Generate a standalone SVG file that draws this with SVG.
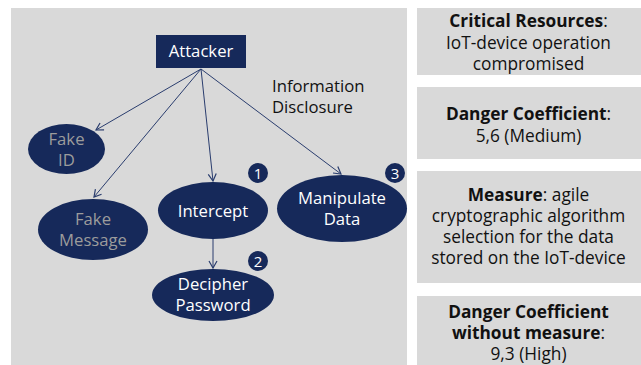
<svg xmlns="http://www.w3.org/2000/svg" width="641" height="365" viewBox="0 0 641 365">
<defs>
<style>
.panel{fill:#d9d9d9}
.node{fill:#16295a}
.t{font-family:"Open Sans","Noto Sans","DejaVu Sans",sans-serif;font-size:16.7px;text-anchor:middle}
.r{font-size:17.3px}
.w{fill:#ffffff}
.g{fill:#9c9c9c}
.k{fill:#111111}
.b{font-weight:bold}
.edge{stroke:#2a3d6e;stroke-width:1;fill:none;marker-end:url(#arr)}
.badge{fill:#16295a}
.bt{font-family:"Open Sans","Noto Sans",sans-serif;font-size:15px;fill:#ffffff;text-anchor:middle}
</style>
<marker id="arr" markerWidth="10" markerHeight="10" refX="8" refY="5" orient="auto" markerUnits="userSpaceOnUse">
<path d="M1,1 L8,5 L1,9" fill="none" stroke="#2a3d6e" stroke-width="1.2"/>
</marker>
</defs>
<rect width="641" height="365" fill="#ffffff"/>
<rect class="panel" x="11" y="8" width="396" height="357"/>
<rect class="panel" x="417" y="8" width="224" height="67"/>
<rect class="panel" x="417" y="87" width="224" height="72"/>
<rect class="panel" x="417" y="171" width="224" height="112"/>
<rect class="panel" x="417" y="296" width="224" height="69"/>

<g id="connectors">
<line class="edge" x1="201" y1="69" x2="96" y2="130"/>
<line class="edge" x1="201" y1="69" x2="94" y2="197"/>
<line class="edge" x1="201" y1="69" x2="213" y2="181"/>
<line class="edge" x1="201" y1="69" x2="341" y2="174"/>
<line class="edge" x1="213" y1="239" x2="213" y2="268"/>
</g>

<g id="attacker">
<rect class="node" x="156" y="35" width="90" height="33"/>
<text class="t w" x="201" y="57">Attacker</text>
</g>
<g id="fake-id">
<ellipse class="node" cx="66.5" cy="149" rx="38.5" ry="25"/>
<text class="t g" x="66.5" y="145">Fake</text>
<text class="t g" x="66.5" y="166">ID</text>
</g>
<g id="fake-message">
<ellipse class="node" cx="93" cy="229.5" rx="55" ry="30.5"/>
<text class="t g" x="93" y="225">Fake</text>
<text class="t g" x="93" y="246">Message</text>
</g>
<g id="intercept">
<ellipse class="node" cx="213" cy="210.5" rx="55" ry="28.5"/>
<text class="t w" x="213" y="217">Intercept</text>
<circle class="badge" cx="258" cy="173" r="10"/>
<text class="bt" x="258" y="178.5">1</text>
</g>
<g id="manipulate-data">
<ellipse class="node" cx="342" cy="208.5" rx="65" ry="33.5"/>
<text class="t w" x="342" y="204">Manipulate</text>
<text class="t w" x="342" y="225">Data</text>
<circle class="badge" cx="395" cy="173" r="10"/>
<text class="bt" x="395" y="178.5">3</text>
</g>
<g id="decipher-password">
<ellipse class="node" cx="213" cy="295" rx="61" ry="26"/>
<text class="t w" x="213" y="290">Decipher</text>
<text class="t w" x="213" y="311">Password</text>
<circle class="badge" cx="258" cy="261" r="10"/>
<text class="bt" x="258" y="266.5">2</text>
</g>
<g id="label-info">
<text class="t k" x="272" y="92" style="text-anchor:start">Information</text>
<text class="t k" x="272" y="113" style="text-anchor:start">Disclosure</text>
</g>

<g id="critical-resources">
<text class="t r k" x="528.5" y="27"><tspan class="b">Critical Resources</tspan>:</text>
<text class="t r k" x="528.5" y="49">IoT-device operation</text>
<text class="t r k" x="528.5" y="70">compromised</text>
</g>
<g id="danger-coefficient">
<text class="t r k" x="528.5" y="120"><tspan class="b">Danger Coefficient</tspan>:</text>
<text class="t r k" x="528.5" y="142">5,6 (Medium)</text>
</g>
<g id="measure">
<text class="t r k" x="528.5" y="201"><tspan class="b">Measure</tspan>: agile</text>
<text class="t r k" x="528.5" y="222">cryptographic algorithm</text>
<text class="t r k" x="528.5" y="243">selection for the data</text>
<text class="t r k" x="528.5" y="264">stored on the IoT-device</text>
</g>
<g id="danger-without">
<text class="t r k" x="528.5" y="318"><tspan class="b">Danger Coefficient</tspan></text>
<text class="t r k" x="528.5" y="339"><tspan class="b">without measure</tspan>:</text>
<text class="t r k" x="528.5" y="360">9,3 (High)</text>
</g>
</svg>
